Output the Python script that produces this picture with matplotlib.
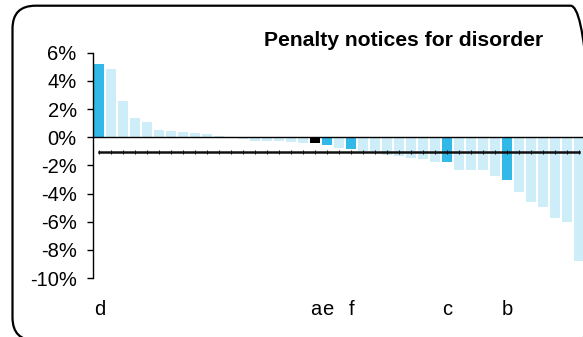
import matplotlib
matplotlib.use("Agg")
import matplotlib.pyplot as plt
from matplotlib.patches import FancyBboxPatch
from matplotlib.transforms import IdentityTransform
import numpy as np

plt.rcParams['font.family'] = ['Liberation Sans', 'DejaVu Sans']

# ---- data ----
values = [5.20, 4.83, 2.55, 1.36, 1.07, 0.51, 0.43, 0.36, 0.27, 0.20, 0.07, 0.0,
          -0.11, -0.28, -0.28, -0.28, -0.35, -0.40, -0.40, -0.56, -0.78, -0.85,
          -0.97, -1.00, -1.28, -1.36, -1.49, -1.57, -1.78, -1.78, -2.35, -2.35,
          -2.35, -2.78, -3.06, -3.91, -4.63, -4.98, -5.77, -6.05, -8.82]
label_names = ['d', 'a', 'e', 'f', 'c', 'b']
label_index = [0, 18, 19, 21, 29, 34]
mean_value = -1.07
yticks = [6, 4, 2, 0, -2, -4, -6, -8, -10]
title = "Penalty notices for disorder"

# ---- style ----
LIGHT = '#CDEDF9'
BLUE = '#33B9E8'
BLACK = '#000000'

W, H = 583, 337
fig = plt.figure(figsize=(W / 100, H / 100), dpi=100)

# rounded border (pixel coordinates), partly running off the right/bottom edge
box = FancyBboxPatch((12.5, -3.5), 581.0, 334.8,
                     boxstyle="round,pad=0,rounding_size=23",
                     transform=IdentityTransform(), fill=False,
                     edgecolor='black', linewidth=1.6)
fig.patches.append(box)

ax_left, ax_right = 93.3, 585.3
ax_top, ax_bot = 52.7, 278.0
ax = fig.add_axes([ax_left / W, 1 - ax_bot / H, (ax_right - ax_left) / W, (ax_bot - ax_top) / H])
ax.patch.set_alpha(0)

x = np.arange(len(values))
colors = [LIGHT] * len(values)
for name, idx in zip(label_names, label_index):
    colors[idx] = BLACK if name == 'a' else BLUE

ax.bar(x, values, width=0.83, color=colors, zorder=2)
ax.axhline(0, color='black', linewidth=1.0, zorder=3)
ax.plot(x, [mean_value] * len(x), color='#111111', linewidth=1.8,
        marker='|', markersize=3.0, markeredgewidth=0.7, zorder=4)

ax.set_xlim(-0.5, len(values) - 0.5)
ax.set_ylim(-10, 6)
ax.set_yticks(yticks)
ax.set_yticklabels([f"{v}%" for v in yticks])
ax.set_xticks(label_index)
ax.set_xticklabels(label_names)

for s in ['top', 'right', 'bottom']:
    ax.spines[s].set_visible(False)
ax.spines['left'].set_linewidth(1.0)
ax.tick_params(axis='y', direction='out', length=4.5, width=1.0, pad=7.5,
               labelsize=14.5, colors='black')
ax.tick_params(axis='x', length=0, pad=15.5, labelsize=14.5)

fig.text(543 / W, 1 - 45.5 / H, title, ha='right', va='baseline',
         fontsize=15.2, fontweight='bold')

fig.savefig('out.png', dpi=100)
